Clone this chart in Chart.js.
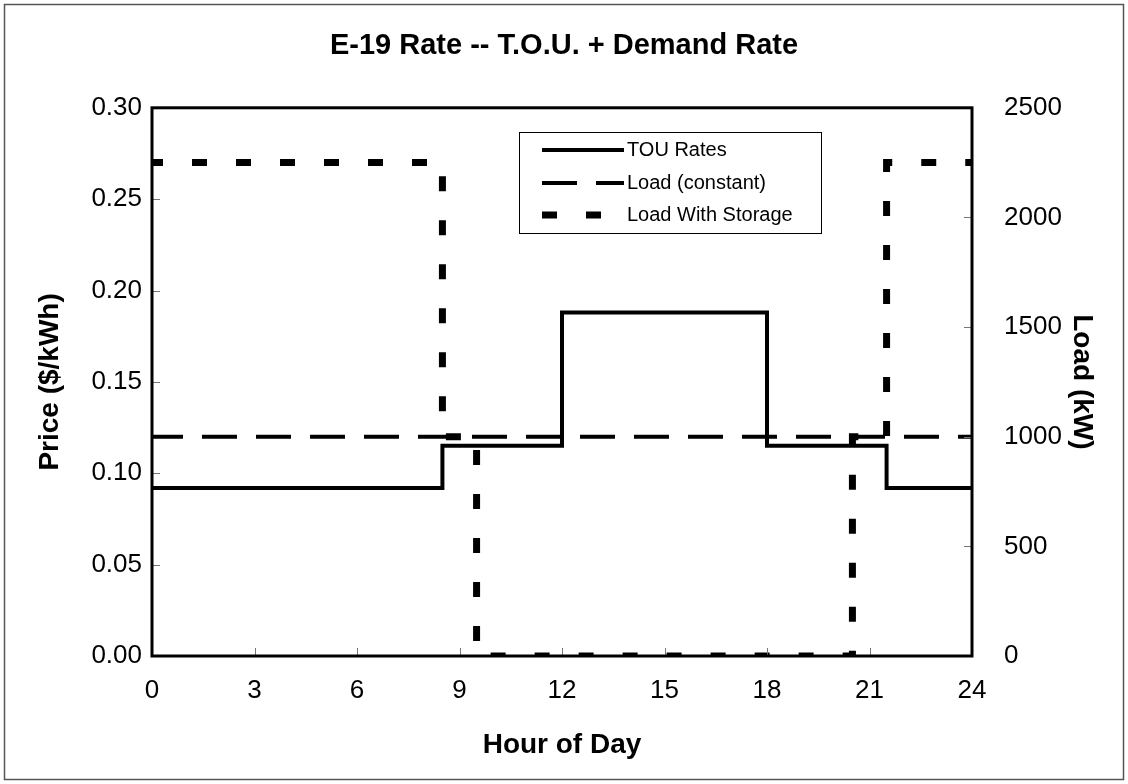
<!DOCTYPE html>
<html>
<head>
<meta charset="utf-8">
<script src="https://cdn.jsdelivr.net/npm/chart.js@4.4.1/dist/chart.umd.min.js"></script>
<style>
  body { margin: 0; background: #fff; }
  #wrap { width: 1128px; height: 784px; }
</style>
</head>
<body>
<div id="wrap"><canvas id="chart" width="1128" height="784"></canvas></div>
<script>
// E-19 rate chart: TOU price (left axis) and load profiles (right axis)
const rateHours = [0, 8.5, 12, 18, 21.5, 24];
const rateValues = [0.092, 0.115, 0.188, 0.115, 0.092, 0.092];

const loadHours = [0, 24];
const loadValues = [1000, 1000];

const storageHours = [0, 8.5, 9.5, 20.5, 21.5, 24];
const storageValues = [2250, 1000, 0, 1000, 2250, 2250];

const seriesNames = ['TOU Rates', 'Load (constant)', 'Load With Storage'];

const FONT = "'Liberation Sans', Arial, sans-serif";

const toPoints = (xs, ys) => xs.map((x, i) => ({ x: x, y: ys[i] }));

// frame around the plot, inward tick marks, outer border and the legend box
const framePlugin = {
    id: 'frame',
    afterDraw(chart) {
        const ctx = chart.ctx;
        const a = chart.chartArea;
        ctx.save();

        // outer border
        ctx.strokeStyle = '#555';
        ctx.lineWidth = 1.5;
        ctx.strokeRect(4.5, 4.5, chart.width - 9, chart.height - 9);

        // inward ticks
        ctx.strokeStyle = '#777';
        ctx.lineWidth = 1;
        ctx.beginPath();
        chart.scales.x.ticks.forEach(t => {
            const px = Math.round(chart.scales.x.getPixelForValue(t.value)) + 0.5;
            ctx.moveTo(px, a.bottom);
            ctx.lineTo(px, a.bottom - 8);
        });
        chart.scales.y.ticks.forEach(t => {
            const py = Math.round(chart.scales.y.getPixelForValue(t.value)) + 0.5;
            ctx.moveTo(a.left, py);
            ctx.lineTo(a.left + 8, py);
        });
        chart.scales.y1.ticks.forEach(t => {
            const py = Math.round(chart.scales.y1.getPixelForValue(t.value)) + 0.5;
            ctx.moveTo(a.right, py);
            ctx.lineTo(a.right - 8, py);
        });
        ctx.stroke();

        // plot frame
        ctx.strokeStyle = '#000';
        ctx.lineWidth = 3;
        ctx.strokeRect(a.left, a.top, a.right - a.left, a.bottom - a.top);

        // legend
        const lx = 519, ly = 132, lw = 302, lh = 101;
        ctx.fillStyle = '#fff';
        ctx.fillRect(lx, ly, lw, lh);
        ctx.strokeStyle = '#000';
        ctx.lineWidth = 1;
        ctx.strokeRect(lx + 0.5, ly + 0.5, lw, lh);
        const rows = [150, 183, 215];
        chart.data.datasets.forEach((ds, i) => {
            ctx.beginPath();
            ctx.strokeStyle = '#000';
            ctx.lineWidth = ds.borderWidth;
            ctx.lineCap = 'butt';
            ctx.setLineDash(ds.borderDash || []);
            ctx.lineDashOffset = 0;
            ctx.moveTo(542, rows[i]);
            ctx.lineTo(624, rows[i]);
            ctx.stroke();
            ctx.setLineDash([]);
            ctx.fillStyle = '#000';
            ctx.font = '20px ' + FONT;
            ctx.textBaseline = 'middle';
            ctx.textAlign = 'left';
            ctx.fillText(ds.label, 627, rows[i]);
        });
        ctx.restore();
    }
};

const chart = new Chart(document.getElementById('chart'), {
    type: 'line',
    data: {
        datasets: [
            {
                label: seriesNames[0],
                data: toPoints(rateHours, rateValues),
                yAxisID: 'y',
                stepped: true,
                borderColor: '#000',
                borderWidth: 4,
                pointRadius: 0
            },
            {
                label: seriesNames[1],
                data: toPoints(loadHours, loadValues),
                yAxisID: 'y1',
                borderColor: '#000',
                borderWidth: 4,
                borderDash: [35, 19],
                borderDashOffset: 4,
                borderCapStyle: 'butt',
                pointRadius: 0
            },
            {
                label: seriesNames[2],
                data: toPoints(storageHours, storageValues),
                yAxisID: 'y1',
                stepped: true,
                borderColor: '#000',
                borderWidth: 7,
                borderDash: [15, 29],
                borderDashOffset: 4,
                borderCapStyle: 'butt',
                pointRadius: 0,
                clip: 0
            }
        ]
    },
    options: {
        responsive: false,
        animation: false,
        layout: { padding: 0 },
        plugins: {
            legend: { display: false },
            tooltip: { enabled: false },
            title: {
                display: true,
                text: 'E-19 Rate -- T.O.U. + Demand Rate',
                color: '#000',
                font: { size: 29, weight: 'bold', family: FONT },
                padding: { top: 29, bottom: 44 }
            }
        },
        scales: {
            x: {
                type: 'linear',
                min: 0,
                max: 24,
                afterFit: s => { s.height = 128; },
                ticks: {
                    stepSize: 3,
                    color: '#000',
                    padding: 19,
                    font: { size: 26, family: FONT }
                },
                grid: { display: false, drawTicks: false },
                border: { display: false },
                title: {
                    display: true,
                    text: 'Hour of Day',
                    color: '#000',
                    font: { size: 28, weight: 'bold', family: FONT },
                    padding: { top: 0, bottom: 22 }
                }
            },
            y: {
                position: 'left',
                min: 0,
                max: 0.3,
                afterFit: s => { s.width = 152; },
                ticks: {
                    stepSize: 0.05,
                    color: '#000',
                    padding: 10,
                    font: { size: 26, family: FONT },
                    callback: v => v.toFixed(2)
                },
                grid: { display: false, drawTicks: false },
                border: { display: false },
                title: {
                    display: true,
                    text: 'Price ($/kWh)',
                    color: '#000',
                    font: { size: 28, weight: 'bold', family: FONT },
                    padding: { top: 33, bottom: 0 }
                }
            },
            y1: {
                position: 'right',
                min: 0,
                max: 2500,
                afterFit: s => { s.width = 156; },
                ticks: {
                    stepSize: 500,
                    color: '#000',
                    padding: 32,
                    font: { size: 26, family: FONT },
                    callback: v => String(v)
                },
                grid: { display: false, drawTicks: false },
                border: { display: false },
                title: {
                    display: true,
                    text: 'Load (kW)',
                    color: '#000',
                    font: { size: 28, weight: 'bold', family: FONT },
                    padding: { top: 29, bottom: 0 }
                }
            }
        }
    },
    plugins: [framePlugin]
});
</script>
</body>
</html>
